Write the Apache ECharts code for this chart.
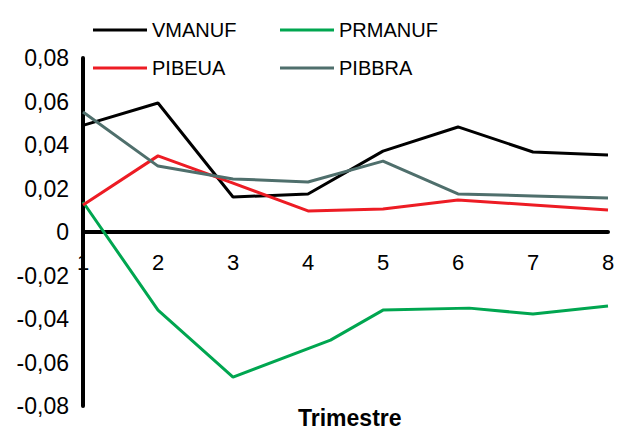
<!DOCTYPE html>
<html>
<head>
<meta charset="utf-8">
<script src="https://cdn.jsdelivr.net/npm/echarts@6/dist/echarts.min.js"></script>
<style>
  html, body { margin: 0; padding: 0; background: #fff; }
  #chart { width: 617px; height: 432px; }
</style>
</head>
<body>
<div id="chart"></div>
<script>
const quarters = [1, 2, 3, 4, 5, 6, 7, 8];
const vmanuf = [0.049, 0.0593, 0.0161, 0.0175, 0.0372, 0.0483, 0.0368, 0.0354];
const pibeua = [0.0124, 0.035, 0.0225, 0.0097, 0.0106, 0.0147, 0.0124, 0.0101];
const pibbra = [0.0552, 0.0303, 0.0244, 0.023, 0.0326, 0.0175, 0.0166, 0.0156];
// PRMANUF vertices do not sit exactly on the quarters in the source picture
const prmanufX = [1, 2, 3, 4.3, 5, 6.15, 7, 8];
const prmanuf = [0.0138, -0.0359, -0.0667, -0.0497, -0.0359, -0.035, -0.0377, -0.034];

const fontFamily = "'Liberation Sans', Arial, sans-serif";

const pairs = (xs, ys) => ys.map((y, i) => [xs[i], y]);

const lineSeries = (name, color, data) => ({
  name,
  type: "line",
  data,
  showSymbol: false,
  symbol: "none",
  lineStyle: { color, width: 3 },
  itemStyle: { color },
  z: 3,
});

const legendBase = {
  orient: "vertical",
  top: 15,
  icon: "rect",
  itemWidth: 54,
  itemHeight: 3,
  itemGap: 18,
  textStyle: { color: "#000", fontSize: 20, fontFamily },
};

const chart = echarts.init(document.getElementById("chart"), null, { renderer: "svg" });

chart.setOption({
  animation: false,
  backgroundColor: "#fff",
  // x-axis title, kept as a title so it sits at the bottom of the picture
  title: {
    text: "Trimestre",
    left: 298,
    top: 406,
    padding: 0,
    textStyle: { color: "#000", fontSize: 23, fontWeight: "bold", fontFamily, lineHeight: 24 },
  },
  grid: {
    left: 83,
    right: 9,
    top: 58,
    bottom: 26,
    containLabel: false,
    outerBoundsMode: "none",
  },
  legend: [
    { ...legendBase, left: 88, data: ["VMANUF", "PIBEUA"] },
    { ...legendBase, left: 275, data: ["PRMANUF", "PIBBRA"] },
  ],
  xAxis: {
    type: "value",
    min: 1,
    max: 8,
    interval: 1,
    axisLine: { onZero: true, lineStyle: { color: "#000", width: 4 } },
    axisTick: { show: false },
    splitLine: { show: false },
    axisLabel: {
      color: "#000",
      fontSize: 22,
      fontFamily,
      // labels sit just under the zero line, not at the grid bottom
      margin: -155,
      showMinLabel: true,
      showMaxLabel: true,
      formatter: (v) => String(quarters[Math.round(v) - 1] ?? v),
    },
  },
  yAxis: {
    type: "value",
    min: -0.08,
    max: 0.08,
    interval: 0.02,
    axisLine: { show: true, lineStyle: { color: "#000", width: 4 } },
    axisTick: { show: false },
    splitLine: { show: false },
    axisLabel: {
      color: "#000",
      fontSize: 23,
      fontFamily,
      margin: 14,
      formatter: (v) => (Math.abs(v) < 1e-9 ? "0" : v.toFixed(2).replace(".", ",")),
    },
  },
  series: [
    lineSeries("VMANUF", "#000000", pairs(quarters, vmanuf)),
    lineSeries("PRMANUF", "#00a650", pairs(prmanufX, prmanuf)),
    lineSeries("PIBEUA", "#ed1c24", pairs(quarters, pibeua)),
    lineSeries("PIBBRA", "#4f6f6c", pairs(quarters, pibbra)),
  ],
});
</script>
</body>
</html>
